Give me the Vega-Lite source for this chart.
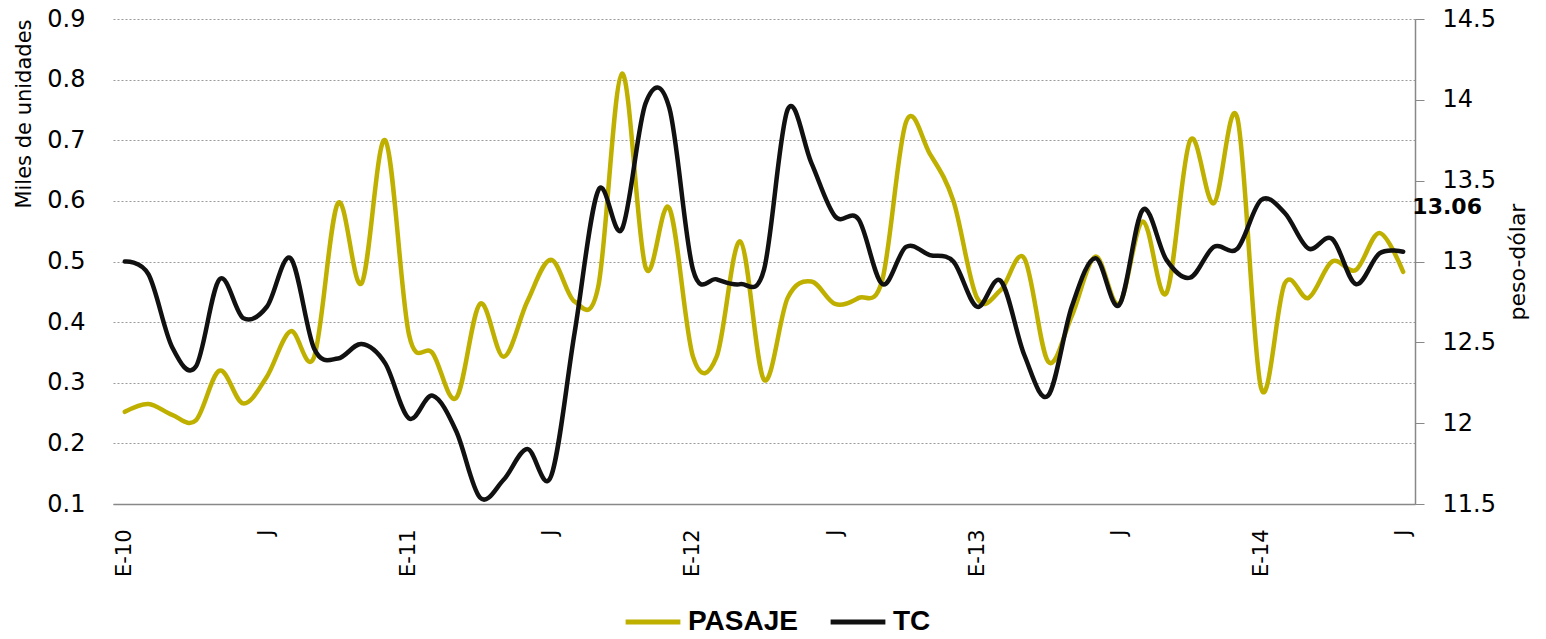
{
  "$schema": "https://vega.github.io/schema/vega-lite/v6.json",
  "width": 1302,
  "height": 485,
  "autosize": "none",
  "padding": {"left": 113, "top": 19, "right": 131, "bottom": 135},
  "background": "white",
  "config": {
    "view": {"stroke": null},
    "font": "DejaVu Sans",
    "axis": {"labelFont": "DejaVu Sans", "titleFont": "DejaVu Sans", "labelColor": "#000", "titleColor": "#000", "titleFontWeight": "normal"}
  },
  "data": {"values": [
    {"mes": "2010-01", "pasaje": 0.252, "tc": 13.00},
    {"mes": "2010-02", "pasaje": 0.265, "tc": 12.92},
    {"mes": "2010-03", "pasaje": 0.247, "tc": 12.47},
    {"mes": "2010-04", "pasaje": 0.238, "tc": 12.35},
    {"mes": "2010-05", "pasaje": 0.320, "tc": 12.89},
    {"mes": "2010-06", "pasaje": 0.266, "tc": 12.65},
    {"mes": "2010-07", "pasaje": 0.310, "tc": 12.72},
    {"mes": "2010-08", "pasaje": 0.385, "tc": 13.02},
    {"mes": "2010-09", "pasaje": 0.343, "tc": 12.46},
    {"mes": "2010-10", "pasaje": 0.596, "tc": 12.40},
    {"mes": "2010-11", "pasaje": 0.464, "tc": 12.49},
    {"mes": "2010-12", "pasaje": 0.700, "tc": 12.37},
    {"mes": "2011-01", "pasaje": 0.380, "tc": 12.03},
    {"mes": "2011-02", "pasaje": 0.349, "tc": 12.17},
    {"mes": "2011-03", "pasaje": 0.275, "tc": 11.95},
    {"mes": "2011-04", "pasaje": 0.430, "tc": 11.54},
    {"mes": "2011-05", "pasaje": 0.343, "tc": 11.65},
    {"mes": "2011-06", "pasaje": 0.434, "tc": 11.84},
    {"mes": "2011-07", "pasaje": 0.503, "tc": 11.67},
    {"mes": "2011-08", "pasaje": 0.434, "tc": 12.56},
    {"mes": "2011-09", "pasaje": 0.459, "tc": 13.44},
    {"mes": "2011-10", "pasaje": 0.810, "tc": 13.20},
    {"mes": "2011-11", "pasaje": 0.490, "tc": 13.98},
    {"mes": "2011-12", "pasaje": 0.588, "tc": 13.95},
    {"mes": "2012-01", "pasaje": 0.343, "tc": 12.95},
    {"mes": "2012-02", "pasaje": 0.343, "tc": 12.89},
    {"mes": "2012-03", "pasaje": 0.533, "tc": 12.86},
    {"mes": "2012-04", "pasaje": 0.305, "tc": 12.95},
    {"mes": "2012-05", "pasaje": 0.440, "tc": 13.94},
    {"mes": "2012-06", "pasaje": 0.467, "tc": 13.61},
    {"mes": "2012-07", "pasaje": 0.430, "tc": 13.28},
    {"mes": "2012-08", "pasaje": 0.440, "tc": 13.26},
    {"mes": "2012-09", "pasaje": 0.470, "tc": 12.86},
    {"mes": "2012-10", "pasaje": 0.730, "tc": 13.09},
    {"mes": "2012-11", "pasaje": 0.678, "tc": 13.04},
    {"mes": "2012-12", "pasaje": 0.600, "tc": 13.00},
    {"mes": "2013-01", "pasaje": 0.440, "tc": 12.72},
    {"mes": "2013-02", "pasaje": 0.453, "tc": 12.88},
    {"mes": "2013-03", "pasaje": 0.505, "tc": 12.42},
    {"mes": "2013-04", "pasaje": 0.335, "tc": 12.17},
    {"mes": "2013-05", "pasaje": 0.410, "tc": 12.72},
    {"mes": "2013-06", "pasaje": 0.508, "tc": 13.02},
    {"mes": "2013-07", "pasaje": 0.430, "tc": 12.73},
    {"mes": "2013-08", "pasaje": 0.566, "tc": 13.32},
    {"mes": "2013-09", "pasaje": 0.448, "tc": 13.01},
    {"mes": "2013-10", "pasaje": 0.700, "tc": 12.90},
    {"mes": "2013-11", "pasaje": 0.596, "tc": 13.09},
    {"mes": "2013-12", "pasaje": 0.736, "tc": 13.08},
    {"mes": "2014-01", "pasaje": 0.291, "tc": 13.38},
    {"mes": "2014-02", "pasaje": 0.464, "tc": 13.30},
    {"mes": "2014-03", "pasaje": 0.440, "tc": 13.08},
    {"mes": "2014-04", "pasaje": 0.500, "tc": 13.14},
    {"mes": "2014-05", "pasaje": 0.486, "tc": 12.86},
    {"mes": "2014-06", "pasaje": 0.547, "tc": 13.05},
    {"mes": "2014-07", "pasaje": 0.483, "tc": 13.06}
  ]},
  "encoding": {
    "x": {
      "field": "mes", "type": "ordinal",
      "scale": {"type": "point", "padding": 0.5},
      "axis": {
        "title": null, "labelAngle": -90, "labelAlign": "right", "labelBaseline": "middle",
        "labelFontSize": 21, "labelPadding": 25, "ticks": false,
        "domainColor": "#888", "domainWidth": 1.5, "grid": false,
        "labelExpr": "substring(datum.value,5,7) == '01' ? 'E-' + substring(datum.value,2,4) : (substring(datum.value,5,7) == '07' ? 'J' : '')"
      }
    }
  },
  "layer": [
    {
      "mark": {"type": "line", "interpolate": "cardinal", "strokeWidth": 4.5, "strokeCap": "round"},
      "encoding": {
        "y": {
          "field": "pasaje", "type": "quantitative",
          "scale": {"domain": [0.1, 0.9], "nice": false, "zero": false},
          "axis": {
            "orient": "left", "title": "Miles de unidades", "titleFontSize": 21, "titleAnchor": "end", "titlePadding": 12,
            "values": [0.1, 0.2, 0.3, 0.4, 0.5, 0.6, 0.7, 0.8, 0.9], "format": ".1f",
            "labelFontSize": 24, "labelPadding": 28, "ticks": false, "domain": false,
            "grid": true, "gridColor": "#9a9a9a", "gridDash": [2, 2], "gridWidth": 1
          }
        },
        "color": {
          "datum": "PASAJE", "type": "nominal",
          "scale": {"domain": ["PASAJE", "TC"], "range": ["#BFB000", "#111111"]},
          "legend": {
            "title": null, "orient": "none", "direction": "horizontal",
            "legendX": 510, "legendY": 573,
            "symbolType": "stroke", "symbolSize": 3000, "symbolStrokeWidth": 5,
            "labelFontSize": 28, "labelFontWeight": "bold", "labelColor": "#000", "labelFont": "Liberation Sans",
            "columnPadding": 22, "labelOffset": 5
          }
        }
      }
    },
    {
      "layer": [
        {
          "mark": {"type": "line", "interpolate": "cardinal", "strokeWidth": 4.5, "strokeCap": "round"},
          "encoding": {
            "y": {
              "field": "tc", "type": "quantitative",
              "scale": {"domain": [11.5, 14.5], "nice": false, "zero": false},
              "axis": {
                "orient": "right", "title": "peso-dólar", "titleFontSize": 22, "titleAngle": -90, "titlePadding": 34,
                "values": [11.5, 12, 12.5, 13, 13.5, 14, 14.5], "labelExpr": "'' + datum.value",
                "labelFontSize": 24, "labelPadding": 18, "tickSize": 9, "tickColor": "#888", "domainColor": "#888", "domainWidth": 1.5, "grid": false
              }
            },
            "color": {"datum": "TC", "type": "nominal"}
          }
        },
        {
          "transform": [{"filter": "datum.mes == '2014-07'"}],
          "mark": {"type": "text", "dx": 44, "dy": -45, "fontSize": 22, "fontWeight": "bold", "color": "#000", "font": "DejaVu Sans"},
          "encoding": {
            "y": {"field": "tc", "type": "quantitative"},
            "text": {"field": "tc", "type": "quantitative", "format": ".2f"}
          }
        }
      ]
    }
  ],
  "resolve": {"scale": {"y": "independent"}}
}
